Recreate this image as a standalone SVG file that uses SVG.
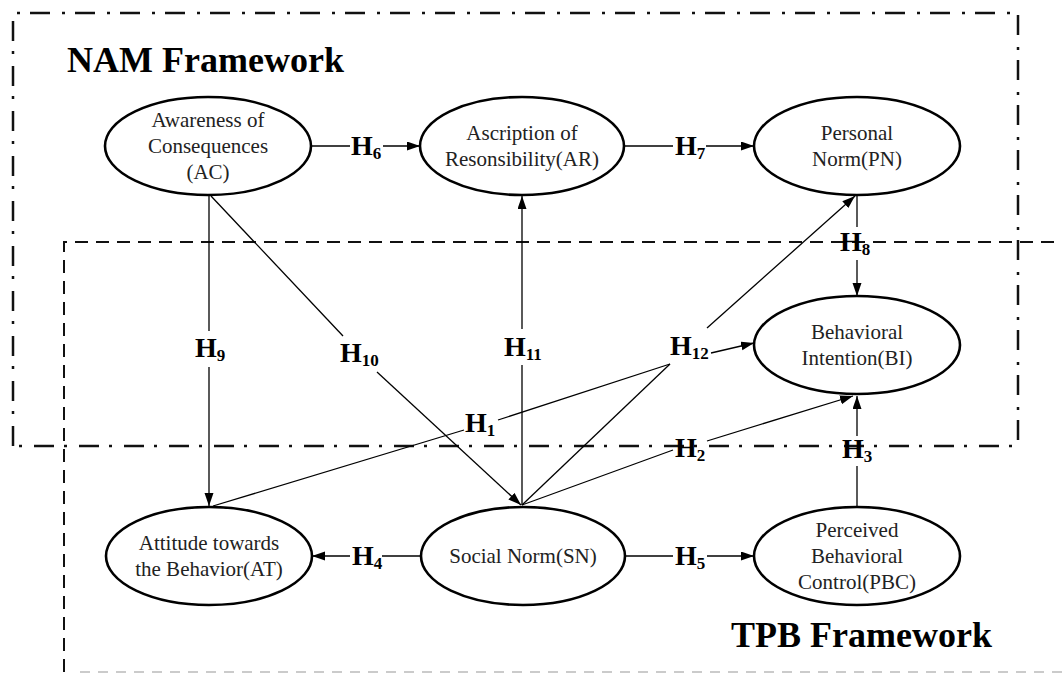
<svg xmlns="http://www.w3.org/2000/svg" width="1062" height="675" viewBox="0 0 1062 675">
<style>
.nam{fill:none;stroke:#111;stroke-width:2.5;stroke-dasharray:20 12 3 10}
.tpb{fill:none;stroke:#111;stroke-width:2;stroke-dasharray:13 8}
.tpbb{fill:none;stroke:#bbb;stroke-width:1.5;stroke-dasharray:10 8}
.node ellipse{fill:#fff;stroke:#000;stroke-width:2.6}
.node text{font-family:"Liberation Serif","Times New Roman",serif;font-size:21px;fill:#222;text-anchor:middle}
.title{font-family:"Liberation Serif","Times New Roman",serif;font-size:36px;font-weight:bold;fill:#000}
.c line{stroke:#000;stroke-width:1.3;fill:none}
.h{font-family:"Liberation Serif","Times New Roman",serif;font-size:28px;font-weight:bold;fill:#000}
.h tspan{font-size:17px}
</style>
<defs>
<marker id="ah" markerUnits="userSpaceOnUse" markerWidth="14" markerHeight="10" refX="13" refY="4.5" orient="auto">
<path d="M0,0 L13,4.5 L0,9 z" fill="#000"/>
</marker>
</defs>
<rect width="1062" height="675" fill="#fff"/>

<g id="frames">
<path class="nam" d="M13,446 L13,13 L1018,13 L1018,446 L13,446"/>
<path class="tpb" d="M64,672 L64,242 L1062,242"/>
<path class="tpbb" d="M80,672 L1062,672"/>
<text class="title" x="67" y="72">NAM Framework</text>
<text class="title" x="731" y="647">TPB Framework</text>
</g>

<g id="connectors" class="c">
<line x1="312" y1="146" x2="350" y2="146"/>
<line x1="383" y1="146" x2="420" y2="146" marker-end="url(#ah)"/>
<line x1="625" y1="146" x2="673" y2="146"/>
<line x1="706" y1="146" x2="754" y2="146" marker-end="url(#ah)"/>
<line x1="857" y1="196" x2="857" y2="227"/>
<line x1="857" y1="260" x2="857" y2="296" marker-end="url(#ah)"/>
<line x1="209" y1="196" x2="209" y2="331"/>
<line x1="209" y1="367" x2="209" y2="506" marker-end="url(#ah)"/>
<line x1="211" y1="196" x2="343" y2="336"/>
<line x1="377" y1="372" x2="521" y2="505" marker-end="url(#ah)"/>
<line x1="522" y1="505" x2="522" y2="365"/>
<line x1="522" y1="329" x2="522" y2="196" marker-end="url(#ah)"/>
<line x1="213" y1="506" x2="464" y2="430"/>
<line x1="498" y1="420" x2="670" y2="364"/>
<line x1="522" y1="505" x2="670" y2="364"/>
<line x1="711" y1="353" x2="754" y2="343" marker-end="url(#ah)"/>
<line x1="707" y1="328" x2="855" y2="196" marker-end="url(#ah)"/>
<line x1="522" y1="505" x2="673" y2="450"/>
<line x1="707" y1="441" x2="853" y2="396" marker-end="url(#ah)"/>
<line x1="857" y1="506" x2="857" y2="466"/>
<line x1="857" y1="436" x2="857" y2="396" marker-end="url(#ah)"/>
<line x1="421" y1="556" x2="382" y2="556"/>
<line x1="350" y1="556" x2="312" y2="556" marker-end="url(#ah)"/>
<line x1="625" y1="556" x2="673" y2="556"/>
<line x1="707" y1="556" x2="754" y2="556" marker-end="url(#ah)"/>
</g>

<g id="labels">
<text class="h" x="351" y="155">H<tspan dy="4">6</tspan></text>
<text class="h" x="675" y="155">H<tspan dy="4">7</tspan></text>
<text class="h" x="840" y="251">H<tspan dy="4">8</tspan></text>
<text class="h" x="195" y="357">H<tspan dy="4">9</tspan></text>
<text class="h" x="340" y="362">H<tspan dy="4">10</tspan></text>
<text class="h" x="504" y="356">H<tspan dy="4">11</tspan></text>
<text class="h" x="670" y="355">H<tspan dy="4">12</tspan></text>
<text class="h" x="465" y="432">H<tspan dy="4">1</tspan></text>
<text class="h" x="675" y="457">H<tspan dy="4">2</tspan></text>
<text class="h" x="842" y="458">H<tspan dy="4">3</tspan></text>
<text class="h" x="352" y="565">H<tspan dy="4">4</tspan></text>
<text class="h" x="675" y="565">H<tspan dy="4">5</tspan></text>
</g>

<g id="AC" class="node">
<ellipse cx="208" cy="146" rx="103" ry="49"/>
<text x="208" y="127">Awareness of</text>
<text x="208" y="153">Consequences</text>
<text x="208" y="179">(AC)</text>
</g>
<g id="AR" class="node">
<ellipse cx="522" cy="146" rx="102" ry="49"/>
<text x="522" y="140">Ascription of</text>
<text x="522" y="166">Resonsibility(AR)</text>
</g>
<g id="PN" class="node">
<ellipse cx="857" cy="146" rx="103" ry="49"/>
<text x="857" y="140">Personal</text>
<text x="857" y="166">Norm(PN)</text>
</g>
<g id="BI" class="node">
<ellipse cx="857" cy="345" rx="103" ry="49"/>
<text x="857" y="339">Behavioral</text>
<text x="857" y="365">Intention(BI)</text>
</g>
<g id="AT" class="node">
<ellipse cx="209" cy="556" rx="103" ry="49"/>
<text x="209" y="550">Attitude towards</text>
<text x="209" y="576">the Behavior(AT)</text>
</g>
<g id="SN" class="node">
<ellipse cx="523" cy="556" rx="102" ry="49"/>
<text x="523" y="563">Social Norm(SN)</text>
</g>
<g id="PBC" class="node">
<ellipse cx="857" cy="556" rx="103" ry="49"/>
<text x="857" y="537">Perceived</text>
<text x="857" y="563">Behavioral</text>
<text x="857" y="589">Control(PBC)</text>
</g>
</svg>
